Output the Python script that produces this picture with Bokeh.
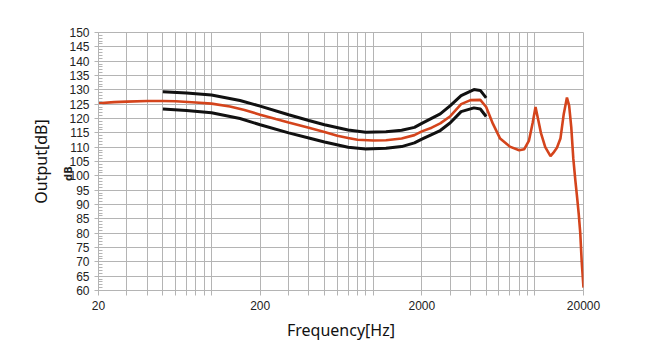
import math
from bokeh.plotting import figure
from bokeh.models import FixedTicker, BasicTickFormatter, Range1d, Div
from bokeh.layouts import column
from bokeh.embed import file_html
from bokeh.resources import INLINE

# ---- data ----
freq_red = [20, 25, 30, 40, 50, 60, 80, 100, 130, 160, 200, 250, 300, 400, 500, 600, 700, 800,
            1000, 1200, 1500, 1800, 2000, 2300, 2600, 3000, 3500, 4000, 4600, 5000, 5500, 6100,
            7000, 8000, 8600, 9200, 9700, 10100, 10500, 10900, 11600, 12500, 13000, 13700,
            14400, 15100, 15800, 16300, 16800, 17300, 17800, 18300, 18700, 19100, 19500, 20000]
db_red = [125.3, 125.7, 125.9, 126.1, 126.1, 126.0, 125.6, 125.2, 124.2, 123.0, 121.3, 119.8,
          118.6, 116.8, 115.3, 114.0, 113.2, 112.6, 112.3, 112.4, 113.0, 114.2, 115.5, 116.8,
          118.3, 120.8, 125.0, 126.4, 126.5, 124.0, 118.2, 113.0, 110.2, 108.9, 109.3, 112.3,
          118.5, 124.0, 119.5, 115.0, 110.0, 106.9, 108.0, 109.8, 113.0, 121.6, 127.3, 124.5,
          117.0, 106.0, 98.5, 92.0, 86.5, 80.0, 70.0, 61.0]

freq_black = [50, 70, 100, 150, 200, 300, 400, 500, 700, 900, 1200, 1500, 1800, 2000, 2600,
              3000, 3500, 4200, 4600, 5000]
db_upper = [129.3, 128.9, 128.2, 126.3, 124.3, 121.3, 119.3, 117.8, 116.0, 115.2, 115.4, 115.9,
            116.9, 118.3, 121.6, 124.5, 128.0, 130.1, 129.8, 127.2]
db_lower = [123.3, 122.8, 122.0, 120.0, 117.8, 115.0, 113.2, 111.8, 110.0, 109.4, 109.6, 110.2,
            111.5, 112.8, 115.8, 118.5, 122.4, 123.7, 123.3, 120.7]

x_major = [20, 200, 2000, 20000]
x_minor = [30, 40, 50, 60, 70, 80, 90, 100, 300, 400, 500, 600, 700, 800, 900, 1000,
           3000, 4000, 5000, 6000, 7000, 8000, 9000, 10000]
y_major = list(range(60, 151, 5))
y_minor = list(range(60, 151, 1))

GRID = "#b4b4b4"
RED = "#d4441c"

p = figure(width=634, height=347, x_axis_type="log", output_backend="svg",
           toolbar_location=None, x_range=Range1d(20, 20000), y_range=Range1d(60, 150),
           min_border_left=98, min_border_right=51, min_border_top=32, min_border_bottom=57)
p.background_fill_color = "white"
p.border_fill_color = "white"
p.outline_line_color = GRID

p.xaxis.ticker = FixedTicker(ticks=x_major, minor_ticks=x_minor)
p.xaxis.formatter = BasicTickFormatter(use_scientific=False)
p.xgrid.ticker = FixedTicker(ticks=x_major, minor_ticks=x_minor)
p.xgrid.grid_line_color = GRID
p.xgrid.minor_grid_line_color = GRID
p.yaxis.ticker = FixedTicker(ticks=y_major, minor_ticks=y_minor)
p.ygrid.ticker = FixedTicker(ticks=y_major)
p.ygrid.grid_line_color = GRID

for ax in (p.xaxis[0], p.yaxis[0]):
    ax.axis_line_color = GRID
    ax.major_tick_line_color = GRID
    ax.minor_tick_line_color = GRID
    ax.major_label_text_font = "Liberation Sans"
    ax.major_label_text_font_size = "12px"
    ax.major_label_text_color = "#222222"
    ax.axis_label_text_font = "Noto Sans"
    ax.axis_label_text_font_size = "16px"
    ax.axis_label_text_font_style = "normal"
    ax.axis_label_text_color = "#111111"

p.xaxis.major_tick_in = 0
p.xaxis.major_tick_out = 5
p.xaxis.minor_tick_in = 0
p.xaxis.minor_tick_out = 5
p.xaxis.major_label_standoff = 5
p.xaxis.axis_label = "Frequency[Hz]"
p.xaxis.axis_label_standoff = 6

p.yaxis.major_tick_in = 0
p.yaxis.major_tick_out = 4
p.yaxis.minor_tick_in = 4
p.yaxis.minor_tick_out = 0
p.yaxis.major_label_standoff = 5
p.yaxis.axis_label = "Output[dB]"
p.yaxis.axis_label_standoff = 14

p.line(freq_black, db_upper, line_color="#111111", line_width=3)
p.line(freq_black, db_lower, line_color="#111111", line_width=3)
p.line(freq_red, db_red, line_color=RED, line_width=2.6)

db_note = Div(text="dB", width=16, height=12,
              styles={"position": "absolute", "left": "56px", "top": "162px",
                      "transform": "rotate(-90deg)", "font-family": "DejaVu Sans",
                      "font-size": "10px", "font-weight": "bold", "color": "#222222",
                      "line-height": "12px", "z-index": "10"})

layout = column(p, db_note, styles={"position": "relative"})

open("out.html", "w").write(file_html(layout, INLINE))
